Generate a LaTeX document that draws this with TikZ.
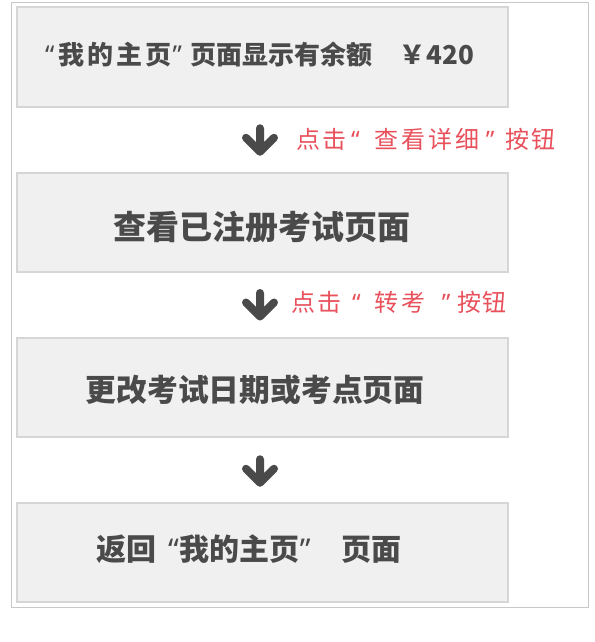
\documentclass[tikz,border=0pt]{standalone}
\usepackage{fontspec}
\newfontfamily\cjk{Noto Sans CJK SC}
\newfontfamily\lat{Noto Sans}
\usetikzlibrary{calc}
\definecolor{boxfill}{HTML}{F0F0F0}
\definecolor{boxline}{HTML}{D6D6D6}
\definecolor{frameline}{HTML}{C8C8C8}
\definecolor{txtgray}{HTML}{4A4A4A}
\definecolor{lblred}{HTML}{E8505B}
\definecolor{arrgray}{HTML}{4A4A4A}
\tikzset{
  stepbox/.style={draw=boxline, fill=boxfill, line width=2pt, minimum width=491pt, minimum height=99pt, inner sep=0pt},
  boxtext/.style={inner sep=0pt, text=txtgray, font=\cjk\bfseries},
  lbltext/.style={inner sep=0pt, anchor=west, text=lblred, font=\cjk\fontsize{24}{24}\selectfont},
  dnarrow/.pic={\draw[arrgray, line width=8pt, line cap=round, line join=round]
     (0,-12.5) -- (0,9) (-14,-3) -- (0,11) -- (14,-3);}
}
\begin{document}
\begin{tikzpicture}[x=1pt,y=-1pt]
\useasboundingbox (0,0) rectangle (594,642);
\draw[frameline, line width=1pt] (11.5,2.5) rectangle (588.5,607.5);
\node[stepbox] (b1) at (262.5,57) {};
\node[stepbox] (b2) at (262.5,222.5) {};
\node[stepbox] (b3) at (262.5,387.5) {};
\node[stepbox] (b4) at (262.5,552) {};
\node[boxtext, anchor=west, font=\cjk\bfseries\fontsize{26}{26}\selectfont] (t1) at (45,55)
  {{\lat “}\hspace{4pt}我\hspace{3pt}的\hspace{3pt}主\hspace{3pt}页\hspace{1pt}{\lat ”}\hspace{9pt}页面显示有余额\hspace{27pt}￥\hspace{1pt}420};
\node[boxtext, font=\cjk\bfseries\fontsize{33}{33}\selectfont] (t2) at (261.5,227.5) {查看已注册考试页面};
\node[boxtext, font=\cjk\bfseries\fontsize{30.8}{30.8}\selectfont] (t3) at (255,389.5) {更改考试日期或考点页面};
\node[boxtext, anchor=west, font=\cjk\bfseries\fontsize{30}{30}\selectfont] (t4) at (96,549)
  {返回\hspace{12pt}{\lat “}\hspace{1pt}我的主页{\lat ”}\hspace{31pt}页面};
\coordinate (a1) at ($(b1.south)!0.5!(b2.north)+(-2.5,1)$);
\coordinate (a2) at ($(b2.south)!0.5!(b3.north)+(-2.5,0.5)$);
\coordinate (a3) at ($(b3.south)!0.5!(b4.north)+(-2.5,2)$);
\pic at (a1) {dnarrow};
\pic at (a2) {dnarrow};
\pic at (a3) {dnarrow};
\node[lbltext] (l1) at (296,139)
  {点\hspace{2pt}击\hspace{5pt}{\lat “}\hspace{15pt}查\hspace{3pt}看\hspace{3pt}详\hspace{3pt}细\hspace{6pt}{\lat ”}\hspace{11pt}按\hspace{2pt}钮};
\node[lbltext] (l2) at (291,302)
  {点\hspace{2pt}击\hspace{11pt}{\lat “}\hspace{14pt}转\hspace{3pt}考\hspace{16pt}{\lat ”}\hspace{7pt}按\hspace{1pt}钮};
\end{tikzpicture}
\end{document}
